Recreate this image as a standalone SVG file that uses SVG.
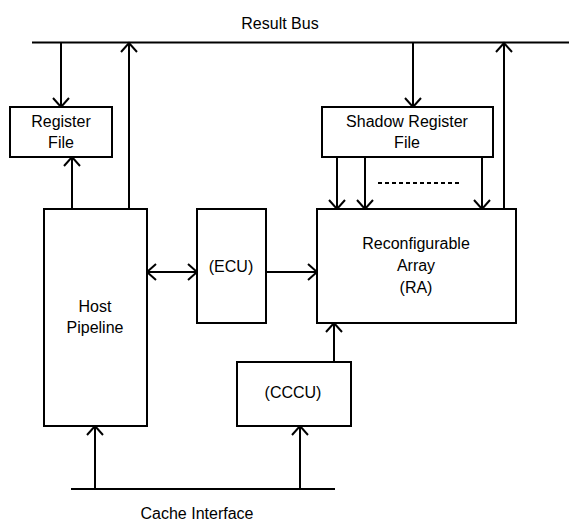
<svg xmlns="http://www.w3.org/2000/svg" width="569" height="521" viewBox="0 0 569 521">
<style>
.box{fill:#fff;stroke:#000;stroke-width:2}
.ln{fill:none;stroke:#000;stroke-width:2}
.ar{fill:none;stroke:#000;stroke-width:2;marker-end:url(#ah)}
text{font-family:"Liberation Sans",Arial,sans-serif;font-size:16px;fill:#000;text-anchor:middle}
</style>
<defs>
<marker id="ah" markerUnits="userSpaceOnUse" markerWidth="24" markerHeight="24" refX="0" refY="0" viewBox="-12 -12 24 24" orient="auto-start-reverse" overflow="visible">
<path d="M-9,-8 L0,0 L-9,8" fill="none" stroke="#000" stroke-width="2"/>
</marker>
</defs>
<rect width="569" height="521" fill="#fff"/>
<g id="result-bus">
<line class="ln" x1="32" y1="42.5" x2="569" y2="42.5"/>
<text x="280" y="29">Result Bus</text>
</g>
<g id="cache-interface">
<line class="ln" x1="71" y1="489" x2="335" y2="489"/>
<text x="197" y="519">Cache Interface</text>
</g>
<g id="connectors">
<line class="ar" x1="61" y1="43" x2="61" y2="107"/>
<line class="ar" x1="72" y1="209" x2="72" y2="157"/>
<line class="ar" x1="129" y1="209" x2="129" y2="43"/>
<line class="ar" x1="413" y1="43" x2="413" y2="107"/>
<line class="ar" x1="337" y1="157" x2="337" y2="209"/>
<line class="ar" x1="365" y1="157" x2="365" y2="209"/>
<line class="ar" x1="482" y1="157" x2="482" y2="209"/>
<line class="ln" x1="378" y1="183" x2="460" y2="183" stroke-dasharray="4,3"/>
<line class="ar" x1="504" y1="209" x2="504" y2="43"/>
<line class="ar" x1="147" y1="272" x2="197" y2="272" style="marker-start:url(#ah)"/>
<line class="ar" x1="266" y1="272" x2="317" y2="272"/>
<line class="ar" x1="334" y1="362" x2="334" y2="323"/>
<line class="ar" x1="95" y1="489" x2="95" y2="426"/>
<line class="ar" x1="300" y1="489" x2="300" y2="426"/>
</g>
<g id="register-file">
<rect class="box" x="10" y="107" width="102" height="50"/>
<text x="61" y="127">Register</text>
<text x="61" y="148">File</text>
</g>
<g id="shadow-register-file">
<rect class="box" x="322" y="107" width="171" height="50"/>
<text x="407" y="127">Shadow Register</text>
<text x="407" y="148">File</text>
</g>
<g id="host-pipeline">
<rect class="box" x="44" y="209" width="103" height="217"/>
<text x="95" y="312">Host</text>
<text x="95" y="333">Pipeline</text>
</g>
<g id="ecu">
<rect class="box" x="197" y="209" width="69" height="114"/>
<text x="231" y="272">(ECU)</text>
</g>
<g id="ra">
<rect class="box" x="317" y="209" width="199" height="114"/>
<text x="416" y="249">Reconfigurable</text>
<text x="416" y="271">Array</text>
<text x="416" y="293">(RA)</text>
</g>
<g id="cccu">
<rect class="box" x="237" y="362" width="114" height="64"/>
<text x="293" y="398">(CCCU)</text>
</g>
</svg>
